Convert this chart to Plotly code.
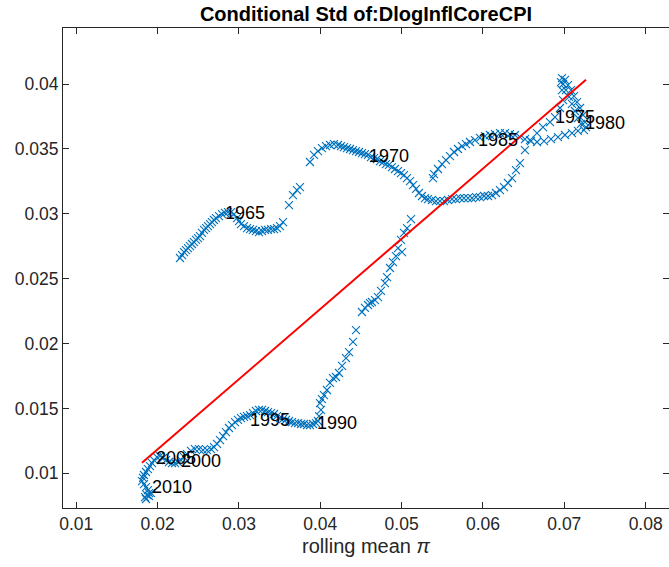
import plotly.graph_objects as go

# ---- data (rolling mean pi, conditional std), in time order ----
pi_1961_1965 = [0.02275, 0.02300, 0.02324, 0.02349, 0.02373, 0.02398, 0.02422, 0.02447, 0.02472, 0.02496,
                0.02521, 0.02545, 0.02570, 0.02595, 0.02619, 0.02644, 0.02668, 0.02693, 0.02718, 0.02754,
                0.02791, 0.02828, 0.02865, 0.02902, 0.02939]
sd_1961_1965 = [0.02659, 0.02682, 0.02705, 0.02720, 0.02736, 0.02751, 0.02767, 0.02782, 0.02798, 0.02813,
                0.02828, 0.02852, 0.02875, 0.02890, 0.02905, 0.02921, 0.02936, 0.02952, 0.02967, 0.02982,
                0.02998, 0.03006, 0.03013, 0.03013, 0.02998]

pi_1965_1968 = [0.02976, 0.03000, 0.03025, 0.03062, 0.03099, 0.03136, 0.03172, 0.03209, 0.03246, 0.03283,
                0.03320, 0.03357, 0.03394, 0.03431, 0.03467, 0.03504, 0.03541, 0.03615, 0.03664, 0.03713,
                0.03750, 0.03873, 0.03922, 0.03971, 0.04020, 0.04070, 0.04119, 0.04168, 0.04217]
sd_1965_1968 = [0.02967, 0.02944, 0.02921, 0.02905, 0.02890, 0.02882, 0.02875, 0.02867, 0.02859, 0.02867,
                0.02875, 0.02875, 0.02882, 0.02882, 0.02890, 0.02905, 0.02936, 0.03067, 0.03144, 0.03183,
                0.03206, 0.03399, 0.03453, 0.03483, 0.03506, 0.03522, 0.03530, 0.03537, 0.03530]

pi_1968_1973 = [0.04254, 0.04291, 0.04328, 0.04365, 0.04402, 0.04439, 0.04476, 0.04512, 0.04549, 0.04586,
                0.04623, 0.04660, 0.04697, 0.04734, 0.04771, 0.04807, 0.04844, 0.04881, 0.04918, 0.04955,
                0.04992, 0.05029, 0.05066, 0.05103, 0.05140, 0.05177, 0.05213, 0.05250, 0.05287, 0.05324]
sd_1968_1973 = [0.03522, 0.03514, 0.03506, 0.03499, 0.03491, 0.03483, 0.03476, 0.03468, 0.03460, 0.03453,
                0.03437, 0.03429, 0.03422, 0.03406, 0.03399, 0.03383, 0.03376, 0.03360, 0.03345, 0.03329,
                0.03314, 0.03298, 0.03275, 0.03252, 0.03221, 0.03191, 0.03160, 0.03137, 0.03121, 0.03113]

pi_1973_1980 = [0.05373, 0.05422, 0.05471, 0.05521, 0.05570, 0.05619, 0.05668, 0.05717, 0.05766, 0.05816,
                0.05865, 0.05914, 0.05963, 0.06013, 0.06062, 0.06111, 0.06160, 0.06209, 0.06258, 0.06307,
                0.06357, 0.06406, 0.06455, 0.06516, 0.06578, 0.06664, 0.06738, 0.06824, 0.06885, 0.06947,
                0.06984, 0.06971, 0.06959, 0.06971, 0.07008, 0.07045, 0.07082, 0.07119, 0.07156, 0.07193,
                0.07230, 0.07254, 0.07266, 0.07242, 0.07205, 0.07168, 0.07131, 0.07094, 0.07057, 0.07020,
                0.06984]
sd_1973_1980 = [0.03106, 0.03098, 0.03098, 0.03098, 0.03106, 0.03113, 0.03113, 0.03121, 0.03121, 0.03121,
                0.03121, 0.03129, 0.03129, 0.03137, 0.03137, 0.03144, 0.03160, 0.03183, 0.03206, 0.03237,
                0.03275, 0.03337, 0.03391, 0.03491, 0.03568, 0.03622, 0.03668, 0.03707, 0.03745, 0.03815,
                0.03876, 0.03953, 0.04015, 0.04046, 0.04031, 0.03992, 0.03953, 0.03907, 0.03861, 0.03815,
                0.03761, 0.03707, 0.03668, 0.03645, 0.03692, 0.03738, 0.03792, 0.03846, 0.03900, 0.03953,
                0.04000]

pi_1980_1986 = [0.07168, 0.07094, 0.07008, 0.06922, 0.06836, 0.06750, 0.06664, 0.06590, 0.06516, 0.06455,
                0.06393, 0.06332, 0.06271, 0.06209, 0.06148, 0.06086, 0.06025, 0.05963, 0.05902, 0.05840,
                0.05791, 0.05742, 0.05693, 0.05644, 0.05594, 0.05545, 0.05496, 0.05447, 0.05398, 0.05385]
sd_1980_1986 = [0.03638, 0.03622, 0.03607, 0.03591, 0.03576, 0.03560, 0.03553, 0.03560, 0.03576, 0.03591,
                0.03607, 0.03614, 0.03622, 0.03622, 0.03614, 0.03607, 0.03599, 0.03584, 0.03568, 0.03553,
                0.03537, 0.03522, 0.03499, 0.03476, 0.03445, 0.03414, 0.03383, 0.03345, 0.03306, 0.03275]

pi_1986_1990 = [0.05115, 0.05066, 0.05029, 0.04992, 0.04955, 0.05004, 0.04930, 0.04893, 0.04857, 0.04820,
                0.04795, 0.04746, 0.04709, 0.04672, 0.04635, 0.04611, 0.04586, 0.04549, 0.04512, 0.04439,
                0.04402, 0.04353, 0.04316, 0.04267, 0.04230, 0.04193, 0.04156, 0.04119, 0.04082, 0.04045,
                0.04020, 0.03996, 0.04008, 0.03984, 0.03971]
sd_1986_1990 = [0.02959, 0.02890, 0.02852, 0.02798, 0.02736, 0.02705, 0.02674, 0.02628, 0.02582, 0.02512,
                0.02466, 0.02405, 0.02358, 0.02335, 0.02320, 0.02312, 0.02297, 0.02274, 0.02243, 0.02104,
                0.02012, 0.01934, 0.01888, 0.01827, 0.01773, 0.01742, 0.01734, 0.01696, 0.01642, 0.01603,
                0.01572, 0.01541, 0.01488, 0.01441, 0.01403]

pi_1990_1995 = [0.03947, 0.03910, 0.03873, 0.03836, 0.03799, 0.03763, 0.03726, 0.03689, 0.03652, 0.03615,
                0.03578, 0.03541, 0.03504, 0.03467, 0.03431, 0.03394, 0.03357, 0.03320, 0.03283, 0.03246,
                0.03209, 0.03172, 0.03136, 0.03099, 0.03062, 0.03025, 0.02988, 0.02951]
sd_1990_1995 = [0.01387, 0.01380, 0.01372, 0.01372, 0.01380, 0.01380, 0.01387, 0.01387, 0.01395, 0.01403,
                0.01411, 0.01418, 0.01426, 0.01441, 0.01457, 0.01464, 0.01472, 0.01480, 0.01488, 0.01488,
                0.01480, 0.01464, 0.01449, 0.01441, 0.01434, 0.01426, 0.01411, 0.01395]

pi_1995_2005 = [0.02914, 0.02877, 0.02840, 0.02804, 0.02767, 0.02730, 0.02693, 0.02656, 0.02607, 0.02558,
                0.02508, 0.02459, 0.02410, 0.02361, 0.02324, 0.02287, 0.02250, 0.02214, 0.02177, 0.02140,
                0.02103, 0.02066, 0.02029, 0.01992]
sd_1995_2005 = [0.01372, 0.01349, 0.01318, 0.01287, 0.01256, 0.01226, 0.01202, 0.01187, 0.01179, 0.01179,
                0.01187, 0.01187, 0.01172, 0.01148, 0.01125, 0.01102, 0.01087, 0.01079, 0.01079, 0.01087,
                0.01102, 0.01118, 0.01133, 0.01125]

pi_2005_2013 = [0.01955, 0.01931, 0.01906, 0.01881, 0.01857, 0.01832, 0.01820, 0.01808, 0.01832, 0.01857,
                0.01881, 0.01894, 0.01869, 0.01845, 0.01857, 0.01894, 0.01919]
sd_2005_2013 = [0.01102, 0.01079, 0.01056, 0.01033, 0.01010, 0.00987, 0.00964, 0.00940, 0.00917, 0.00894,
                0.00871, 0.00848, 0.00832, 0.00817, 0.00802, 0.00825, 0.00848]

# fitted regression line (slope, intercept)
fit_slope = 0.5410
fit_intercept = 0.001024

# year labels
label_years = ["1965", "1970", "1975", "1980", "1985", "1990", "1995", "2000", "2005", "2010"]
label_pi = [0.02828, 0.04598, 0.06885, 0.07254, 0.05939, 0.03959, 0.03136, 0.02287, 0.01980, 0.01931]
label_sd = [0.03006, 0.03445, 0.03745, 0.03699, 0.03568, 0.01387, 0.01411, 0.01095, 0.01118, 0.00894]

# tick labels
x_ticks = [0.01, 0.02, 0.03, 0.04, 0.05, 0.06, 0.07, 0.08]
x_ticktext = ["0.01", "0.02", "0.03", "0.04", "0.05", "0.06", "0.07", "0.08"]
y_ticks = [0.01, 0.015, 0.02, 0.025, 0.03, 0.035, 0.04]
y_ticktext = ["0.01", "0.015", "0.02", "0.025", "0.03", "0.035", "0.04"]

# ---- build ----
pi_all = (pi_1961_1965 + pi_1965_1968 + pi_1968_1973 + pi_1973_1980 + pi_1980_1986
          + pi_1986_1990 + pi_1990_1995 + pi_1995_2005 + pi_2005_2013)
sd_all = (sd_1961_1965 + sd_1965_1968 + sd_1968_1973 + sd_1973_1980 + sd_1980_1986
          + sd_1986_1990 + sd_1990_1995 + sd_1995_2005 + sd_2005_2013)

fit_x = [min(pi_all), max(pi_all)]
fit_y = [fit_intercept + fit_slope * v for v in fit_x]

FONT = "Liberation Sans, Arial, Helvetica, sans-serif"
AXC = "#262626"

fig = go.Figure()
fig.add_trace(go.Scatter(
    x=pi_all, y=sd_all, mode="markers",
    marker=dict(symbol="x-thin-open", size=8, color="#0072BD",
                line=dict(color="#0072BD", width=1.1)),
    showlegend=False, hoverinfo="skip"))
fig.add_trace(go.Scatter(
    x=fit_x, y=fit_y, mode="lines",
    line=dict(color="#FF0000", width=2),
    showlegend=False, hoverinfo="skip"))

for t, xv, yv in zip(label_years, label_pi, label_sd):
    fig.add_annotation(x=xv, y=yv, text=t, showarrow=False, xanchor="left", yanchor="middle",
                       xshift=-2, font=dict(family=FONT, size=18, color="#000000"))

fig.update_layout(
    width=669, height=567,
    margin=dict(l=63, r=0, t=28, b=59),
    paper_bgcolor="white", plot_bgcolor="white",
    title=dict(text="Conditional Std of:DlogInflCoreCPI", x=0.5, xref="paper", xanchor="center",
               y=1 - 14 / 567, yref="container", yanchor="middle",
               font=dict(family=FONT, size=20, color="#000000", weight="bold")),
    font=dict(family=FONT, color=AXC),
)
fig.update_xaxes(
    range=[0.008365, 0.08287], tickvals=x_ticks, ticktext=x_ticktext,
    ticks="inside", ticklen=6, tickwidth=1, tickcolor=AXC,
    showline=True, linecolor=AXC, linewidth=1, mirror="ticks",
    showgrid=False, zeroline=False,
    tickfont=dict(family=FONT, size=17.5, color=AXC),
    title=dict(text="rolling mean <i>π</i>", font=dict(family=FONT, size=20, color=AXC), standoff=5),
)
fig.update_yaxes(
    range=[0.007326, 0.044315], tickvals=y_ticks, ticktext=y_ticktext,
    ticks="inside", ticklen=6, tickwidth=1, tickcolor=AXC,
    showline=True, linecolor=AXC, linewidth=1, mirror="ticks",
    showgrid=False, zeroline=False,
    tickfont=dict(family=FONT, size=17.5, color=AXC),
)

fig.write_html("out.html")
